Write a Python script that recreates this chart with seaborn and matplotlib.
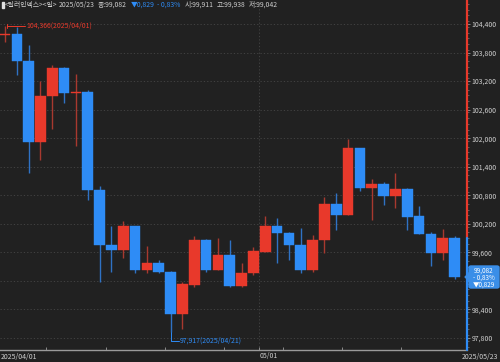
import numpy as np
import pandas as pd
import matplotlib
matplotlib.use("Agg")
import matplotlib.pyplot as plt
from matplotlib.patches import FancyBboxPatch, Rectangle, Polygon
import seaborn as sns

# ---------------- data ----------------
dates = ["2025/04/01", "2025/04/02", "2025/04/03", "2025/04/04", "2025/04/07",
         "2025/04/08", "2025/04/09", "2025/04/10", "2025/04/11", "2025/04/14",
         "2025/04/15", "2025/04/16", "2025/04/17", "2025/04/18", "2025/04/21",
         "2025/04/22", "2025/04/23", "2025/04/24", "2025/04/25", "2025/04/28",
         "2025/04/29", "2025/04/30", "2025/05/01", "2025/05/02", "2025/05/05",
         "2025/05/06", "2025/05/07", "2025/05/08", "2025/05/09", "2025/05/12",
         "2025/05/13", "2025/05/14", "2025/05/15", "2025/05/16", "2025/05/19",
         "2025/05/20", "2025/05/21", "2025/05/22", "2025/05/23"]
open_ = [104.17, 104.19, 103.63, 101.91, 102.89, 103.48, 102.94, 102.98, 100.91, 99.75,
         99.66, 100.15, 99.23, 99.38, 99.19, 98.31, 98.92, 99.86, 99.24, 99.55,
         98.89, 99.16, 99.61, 100.15, 100.00, 99.75, 99.23, 99.86, 100.62, 100.39,
         101.79, 100.95, 101.04, 100.79, 100.94, 100.36, 99.99, 99.58, 99.911]
high = [104.366, 104.33, 103.96, 103.21, 103.54, 103.50, 103.34, 103.01, 100.99, 100.15,
        100.27, 100.16, 99.73, 99.45, 99.20, 98.98, 99.94, 99.88, 99.90, 99.85,
        99.38, 99.71, 100.36, 100.32, 100.03, 100.11, 99.96, 100.77, 100.85, 101.98,
        101.80, 101.14, 101.07, 101.27, 100.95, 100.57, 100.03, 100.10, 99.938]
low = [104.03, 103.33, 101.26, 101.54, 102.19, 102.75, 101.84, 100.70, 98.98, 99.19,
       99.48, 99.17, 99.17, 99.17, 97.917, 98.00, 98.88, 99.19, 99.22, 98.88,
       98.87, 99.12, 99.60, 99.38, 99.45, 99.17, 99.19, 99.59, 100.08, 100.38,
       100.90, 100.28, 100.60, 100.53, 100.06, 99.98, 99.31, 99.44, 99.042]
close = [104.19, 103.63, 101.91, 102.89, 103.48, 102.94, 102.97, 100.91, 99.75, 99.66,
         100.15, 99.23, 99.38, 99.19, 98.31, 98.94, 99.86, 99.24, 99.55, 98.89,
         99.17, 99.63, 100.15, 100.00, 99.75, 99.24, 99.87, 100.62, 100.39, 101.79,
         100.95, 101.04, 100.79, 100.94, 100.35, 99.99, 99.58, 99.911, 99.082]
ytick_values = [97.8, 98.4, 99.0, 99.6, 100.2, 100.8, 101.4, 102.0, 102.6, 103.2, 103.8, 104.4]
week_breaks = [3.5, 8.5, 13.5, 18.5, 21.5, 23.5, 28.5, 33.5]
month_break = 21.5
x_labels = ["2025/04/01", "05/01", "2025/05/23"]
title_name = "<달러인덱스><일>"
last_date = "2025/05/23"
last_close, last_open, last_high, last_low = 99.082, 99.911, 99.938, 99.042
chg, chg_pct = 0.829, 0.83
high_label = "104,366(2025/04/01)"
low_label = "97,917(2025/04/21)"

df = pd.DataFrame({"date": dates, "open": open_, "high": high, "low": low, "close": close})
df["i"] = np.arange(len(df))
df["up"] = df["close"] >= df["open"]


def kfmt(v, nd=3):
    return f"{v:.{nd}f}".replace(".", ",")


# ---------------- style ----------------
BG = "#212121"
RED = "#e8392b"
BLUE = "#2e8cf6"
RED_W = "#a8392f"
BLUE_W = "#2f72c4"
TXT = "#cfcfcf"
GRID = "#474747"

sns.set_theme(style="dark", rc={"axes.facecolor": BG, "figure.facecolor": BG})
plt.rcParams["font.family"] = ["Noto Sans CJK KR", "DejaVu Sans"]

W, H = 500, 362
fig = plt.figure(figsize=(W / 100, H / 100), dpi=100)
ax = fig.add_axes([0, 12 / H, 467 / W, 350 / H])
ax.set_facecolor(BG)

step = 11.83
ax.set_xlim(-5 / step, (467 - 5) / step)
ax.set_ylim(104.4 - 326 / 47.58, 104.4 + 24 / 47.58)

# gridlines
for v in ytick_values:
    ax.axhline(v, color=GRID, lw=0.6, ls=(0, (1.5, 2.5)), zorder=0)
ax.axvline(month_break, color=GRID, lw=0.6, ls=(0, (1.5, 2.5)), zorder=0)

# wicks
wcol = [RED_W if u else BLUE_W for u in df["up"]]
ax.vlines(df["i"], df["low"], df["high"], colors=wcol, lw=1.0, zorder=2)
# bodies
body_bottom = np.minimum(df["open"], df["close"])
body_h = np.maximum(np.abs(df["close"] - df["open"]), 0.025)
bcol = [RED if u else BLUE for u in df["up"]]
ax.bar(df["i"], body_h, bottom=body_bottom, width=0.9, color=bcol,
       edgecolor=bcol, linewidth=0.3, zorder=3)

# right axis
ax.yaxis.tick_right()
ax.set_yticks(ytick_values)
ax.set_yticklabels(["" if abs(v - 99.0) < 1e-6 else f"{v:,.3f}".replace(".", ",") for v in ytick_values])
ax.set_yticks(np.arange(97.62, 104.9, 0.12), minor=True)
ax.tick_params(axis="y", which="major", colors="#9a9a9a", labelcolor=TXT, labelsize=5,
               length=2, width=0.6, pad=1.5, direction="out")
ax.tick_params(axis="y", which="minor", colors="#7a7a7a", length=1.2, width=0.5, direction="out")
for s in ["left", "top", "right"]:
    ax.spines[s].set_visible(False)
ax.spines["bottom"].set_color("#9a9a9a")
ax.spines["bottom"].set_linewidth(1.0)

ymin, ymax = ax.get_ylim()
split = (last_open - ymin) / (ymax - ymin)
ax.axvline(ax.get_xlim()[1], ymin=split, ymax=1, color=RED, lw=1.6, clip_on=False, zorder=5)
ax.axvline(ax.get_xlim()[1], ymin=0, ymax=split, color=BLUE, lw=1.6, clip_on=False, zorder=5)

# bottom axis ticks
ax.set_xticks(week_breaks)
ax.set_xticklabels([])
ax.tick_params(axis="x", colors="#9a9a9a", length=2, width=0.6, direction="in", bottom=True)
fig.text(1 / W, 1 - 357 / H, x_labels[0], color=TXT, fontsize=5, ha="left", va="center")
ax.text(month_break, -0.005, x_labels[1], transform=ax.get_xaxis_transform(),
        color=TXT, fontsize=5, ha="left", va="top")
fig.text(498 / W, 1 - 357 / H, x_labels[2], color=TXT, fontsize=5, ha="right", va="center")

# high / low annotations
ax.plot([0.17, 1.7], [high[0], high[0]], color=RED, lw=0.7, zorder=4)
ax.plot([0.17, 0.17], [high[0] + 0.03, high[0] - 0.05], color=RED, lw=0.7, zorder=4)
ax.text(1.78, high[0], high_label, color=RED, fontsize=5, ha="left", va="center")
imin = int(np.argmin(low))
ax.plot([imin, imin, imin + 0.7], [low[imin], low[imin] - 0.17, low[imin] - 0.17], color=BLUE, lw=0.7, zorder=4)
ax.text(imin + 0.78, low[imin] - 0.17, low_label, color=BLUE, fontsize=5, ha="left", va="center")

# header (laid out left to right, one segment after another)
fig.add_artist(Rectangle((1.7 / W, 1 - 7.5 / H), 1.8 / W, 5.5 / H, transform=fig.transFigure,
                         color="#e0e0e0"))
hy = 1 - 5 / H
segments = [
    (title_name, TXT, 1.5),
    (last_date, TXT, 3.0),
    ("종:" + kfmt(last_close), TXT, 4.0),
    ("▼" + kfmt(chg), BLUE, 3.0),
    ("- " + kfmt(chg_pct, 2) + "%", BLUE, 4.0),
    ("시:" + kfmt(last_open), TXT, 3.0),
    ("고:" + kfmt(last_high), TXT, 3.0),
    ("저:" + kfmt(last_low), TXT, 0),
]
renderer = fig.canvas.get_renderer()
xpix = 4.5
for s, c, gap in segments:
    t = fig.text(xpix / W, hy, s, color=c, fontsize=4.9, va="center", ha="left")
    bb = t.get_window_extent(renderer=renderer)
    xpix += bb.width + gap

# current price box
by0, by1 = 1 - 288 / H, 1 - 266 / H
fig.add_artist(FancyBboxPatch((469 / W, by0), 30 / W, by1 - by0, transform=fig.transFigure,
                              boxstyle="round,pad=0,rounding_size=0.004", color="#3a8ee8", zorder=6))
yc = 1 - 277 / H
fig.add_artist(Polygon([[465 / W, yc], [469.5 / W, yc + 4 / H], [469.5 / W, yc - 4 / H]],
                       closed=True, transform=fig.transFigure, color="#3a8ee8", zorder=6))
for k, s in enumerate([kfmt(last_close), "- " + kfmt(chg_pct, 2) + "%", "▼" + kfmt(chg)]):
    fig.text(484 / W, 1 - (270.5 + 7 * k) / H, s, color="white", fontsize=4.6,
             ha="center", va="center", zorder=7)

fig.savefig("out.png", dpi=100, facecolor=BG)
